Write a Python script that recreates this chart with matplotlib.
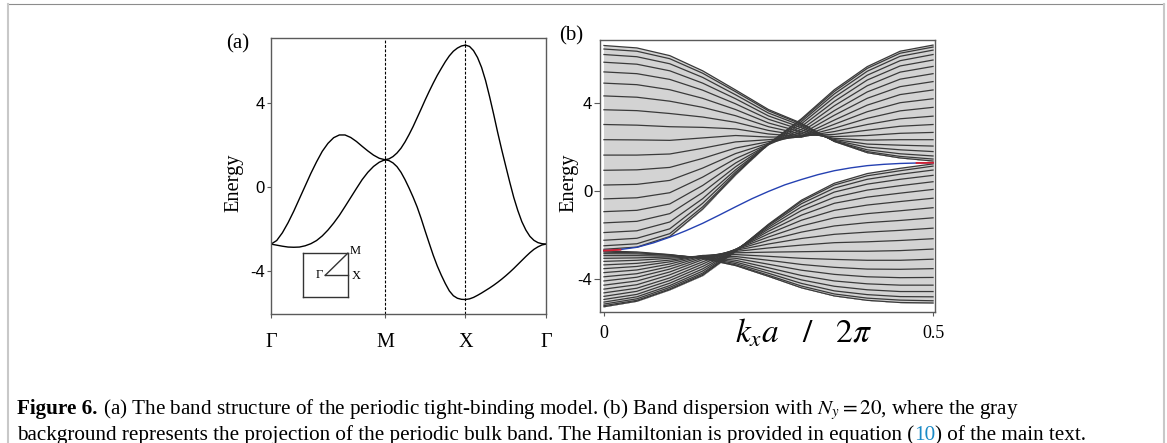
import numpy as np
import matplotlib
matplotlib.use('Agg')
import matplotlib.pyplot as plt
from matplotlib.lines import Line2D

plt.rcParams['font.family'] = 'Liberation Serif'
plt.rcParams['mathtext.fontset'] = 'stix'
plt.rcParams['axes.unicode_minus'] = False

W, H = 1167, 443

# ---------------- panel (a): bands along Γ-M-X-Γ ----------------
path_labels = ['Γ', 'M', 'X', 'Γ']
seg_lengths = [np.sqrt(2), 1.0, 1.0]
seg_frac = [0.0, 0.05, 0.1, 0.15, 0.2, 0.25, 0.3, 0.35, 0.4, 0.45, 0.5,
            0.55, 0.6, 0.65, 0.7, 0.75, 0.8, 0.85, 0.9, 0.95, 1.0]

upper_GM = [-2.72, -2.55, -2.18, -1.70, -1.15, -0.55, 0.05, 0.65, 1.20, 1.70, 2.08,
            2.35, 2.48, 2.48, 2.36, 2.17, 1.94, 1.72, 1.52, 1.37, 1.30]
lower_GM = [-2.72, -2.77, -2.82, -2.86, -2.87, -2.86, -2.80, -2.70, -2.55, -2.33, -2.05,
            -1.72, -1.35, -0.93, -0.50, -0.07, 0.35, 0.70, 0.98, 1.18, 1.30]
upper_MX = [1.30, 1.34, 1.45, 1.62, 1.85, 2.15, 2.50, 2.88, 3.30, 3.72, 4.15,
            4.56, 4.95, 5.32, 5.65, 5.97, 6.25, 6.47, 6.62, 6.72, 6.76]
lower_MX = [1.30, 1.26, 1.15, 0.97, 0.70, 0.35, -0.05, -0.48, -0.95, -1.50, -2.10,
            -2.68, -3.25, -3.76, -4.20, -4.60, -4.95, -5.18, -5.30, -5.35, -5.36]
upper_XG = [6.76, 6.70, 6.50, 6.17, 5.70, 5.07, 4.30, 3.47, 2.60, 1.78, 1.00,
            0.23, -0.50, -1.12, -1.65, -2.05, -2.35, -2.54, -2.65, -2.70, -2.72]
lower_XG = [-5.36, -5.33, -5.26, -5.16, -5.05, -4.93, -4.81, -4.68, -4.54, -4.39, -4.23,
            -4.06, -3.88, -3.69, -3.50, -3.31, -3.13, -2.97, -2.85, -2.76, -2.72]

# ---------------- panel (b): ribbon bands, N_y = 20 ----------------
kx = [0.0, 0.05, 0.10, 0.15, 0.20, 0.25, 0.30, 0.35, 0.40, 0.45, 0.50]

upper_bands = [
    [-2.65, -2.55, -2.07, -0.82, 0.74, 2.15, 3.28, 4.60, 5.65, 6.35, 6.63],
    [-2.49, -2.40, -1.94, -0.72, 0.78, 2.14, 3.23, 4.52, 5.57, 6.26, 6.54],
    [-2.24, -2.15, -1.72, -0.56, 0.86, 2.12, 3.15, 4.41, 5.44, 6.12, 6.40],
    [-1.89, -1.81, -1.41, -0.35, 0.96, 2.11, 3.05, 4.26, 5.26, 5.92, 6.20],
    [-1.45, -1.38, -1.03, -0.07, 1.10, 2.11, 2.93, 4.07, 5.04, 5.68, 5.95],
    [-0.94, -0.88, -0.59, 0.25, 1.27, 2.11, 2.80, 3.87, 4.78, 5.40, 5.66],
    [-0.36, -0.31, -0.08, 0.63, 1.47, 2.13, 2.69, 3.65, 4.50, 5.08, 5.33],
    [0.27, 0.30, 0.48, 1.04, 1.70, 2.17, 2.59, 3.44, 4.21, 4.74, 4.97],
    [0.94, 0.96, 1.07, 1.48, 1.95, 2.24, 2.51, 3.22, 3.90, 4.38, 4.59],
    [1.63, 1.63, 1.68, 1.94, 2.23, 2.33, 2.46, 3.03, 3.60, 4.01, 4.19],
    [2.33, 2.32, 2.30, 2.41, 2.52, 2.45, 2.45, 2.85, 3.30, 3.64, 3.80],
    [3.02, 2.99, 2.92, 2.89, 2.82, 2.59, 2.47, 2.70, 3.02, 3.28, 3.40],
    [3.69, 3.65, 3.52, 3.36, 3.12, 2.75, 2.51, 2.57, 2.76, 2.94, 3.02],
    [4.32, 4.26, 4.08, 3.80, 3.42, 2.92, 2.59, 2.47, 2.52, 2.62, 2.66],
    [4.90, 4.83, 4.60, 4.21, 3.70, 3.09, 2.68, 2.39, 2.31, 2.33, 2.33],
    [5.41, 5.33, 5.07, 4.58, 3.96, 3.26, 2.78, 2.34, 2.13, 2.08, 2.04],
    [5.85, 5.76, 5.46, 4.90, 4.19, 3.41, 2.88, 2.30, 1.99, 1.87, 1.79],
    [6.20, 6.10, 5.78, 5.16, 4.37, 3.54, 2.97, 2.27, 1.87, 1.69, 1.59],
    [6.45, 6.35, 6.01, 5.35, 4.51, 3.64, 3.04, 2.26, 1.79, 1.57, 1.45],
    [6.61, 6.50, 6.15, 5.46, 4.59, 3.70, 3.08, 2.25, 1.74, 1.50, 1.36],
]

lower_bands = [
    [-2.73, -2.77, -2.89, -3.07, -3.39, -3.88, -4.40, -4.77, -4.97, -5.07, -5.09],
    [-2.78, -2.81, -2.90, -3.06, -3.36, -3.83, -4.32, -4.68, -4.87, -4.96, -4.99],
    [-2.85, -2.86, -2.92, -3.03, -3.30, -3.74, -4.20, -4.54, -4.71, -4.80, -4.81],
    [-2.94, -2.94, -2.96, -3.00, -3.23, -3.63, -4.04, -4.33, -4.49, -4.57, -4.57],
    [-3.06, -3.04, -3.00, -2.98, -3.15, -3.49, -3.84, -4.09, -4.22, -4.28, -4.28],
    [-3.20, -3.15, -3.06, -2.95, -3.06, -3.33, -3.60, -3.79, -3.90, -3.94, -3.93],
    [-3.36, -3.29, -3.14, -2.94, -2.98, -3.15, -3.34, -3.47, -3.55, -3.56, -3.53],
    [-3.53, -3.43, -3.22, -2.93, -2.89, -2.97, -3.06, -3.11, -3.15, -3.15, -3.10],
    [-3.71, -3.59, -3.32, -2.95, -2.81, -2.78, -2.76, -2.74, -2.74, -2.71, -2.64],
    [-3.90, -3.76, -3.43, -2.99, -2.75, -2.59, -2.46, -2.35, -2.31, -2.25, -2.17],
    [-4.09, -3.92, -3.55, -3.05, -2.70, -2.41, -2.16, -1.97, -1.87, -1.79, -1.69],
    [-4.28, -4.09, -3.68, -3.12, -2.67, -2.24, -1.87, -1.59, -1.44, -1.34, -1.22],
    [-4.46, -4.26, -3.81, -3.22, -2.65, -2.09, -1.59, -1.22, -1.03, -0.90, -0.76],
    [-4.63, -4.42, -3.95, -3.32, -2.65, -1.95, -1.33, -0.88, -0.64, -0.48, -0.33],
    [-4.79, -4.56, -4.07, -3.43, -2.66, -1.83, -1.10, -0.56, -0.28, -0.10, 0.07],
    [-4.93, -4.70, -4.19, -3.54, -2.68, -1.73, -0.89, -0.29, 0.04, 0.24, 0.42],
    [-5.05, -4.81, -4.30, -3.64, -2.70, -1.65, -0.72, -0.05, 0.31, 0.53, 0.71],
    [-5.14, -4.90, -4.38, -3.73, -2.72, -1.58, -0.58, 0.13, 0.53, 0.76, 0.95],
    [-5.21, -4.97, -4.45, -3.79, -2.73, -1.54, -0.48, 0.27, 0.69, 0.92, 1.13],
    [-5.26, -5.01, -4.49, -3.84, -2.75, -1.51, -0.42, 0.35, 0.79, 1.03, 1.23],
]

# edge state (blue) and its red ends
edge_k = [0.0, 0.025, 0.05, 0.075, 0.1, 0.125, 0.15, 0.175, 0.2, 0.225, 0.25,
          0.275, 0.3, 0.325, 0.35, 0.375, 0.4, 0.425, 0.45, 0.475, 0.5]
edge_E = [-2.71, -2.66, -2.56, -2.36, -2.10, -1.80, -1.47, -1.10, -0.72, -0.35, -0.02,
          0.28, 0.52, 0.74, 0.92, 1.05, 1.15, 1.21, 1.25, 1.27, 1.28]
red_left_k = [0.0, 0.025]
red_left_E = [-2.71, -2.67]
red_right_k = [0.475, 0.5]
red_right_E = [1.27, 1.28]

caption_line1 = ('(a) The band structure of the periodic tight-binding model. '
                 '(b) Band dispersion with $N_y = 20$, where the gray')
caption_line2a = ('background represents the projection of the periodic bulk band. '
                  'The Hamiltonian is provided in equation (')
caption_ref = '10'
caption_line2b = ') of the main text.'

frame_col = '#5a5a5a'
band_col = '#3a3a3a'
fill_col = '#d3d3d3'

fig = plt.figure(figsize=(W / 100, H / 100), dpi=100)


def px_axes(left, top, right, bottom):
    return fig.add_axes([left / W, 1 - bottom / H, (right - left) / W, (bottom - top) / H])


# ---------------- panel (a) ----------------
ax_a = px_axes(271, 38, 546, 314)
x0 = 0.0
segments = [(upper_GM, lower_GM), (upper_MX, lower_MX), (upper_XG, lower_XG)]
for L, (up, lo) in zip(seg_lengths, segments):
    xs = x0 + L * np.array(seg_frac)
    ax_a.plot(xs, up, color='black', lw=1.0)
    ax_a.plot(xs, lo, color='black', lw=1.0)
    x0 += L
ticks_a = np.concatenate([[0], np.cumsum(seg_lengths)])
for xv in ticks_a[1:-1]:
    ax_a.axvline(xv, color='black', lw=0.8, ls=(0, (2.5, 1.5)))
ax_a.set_xlim(0, ticks_a[-1])
ax_a.set_ylim(-6.05, 7.1)
ax_a.set_xticks(ticks_a)
ax_a.set_xticklabels(path_labels, fontsize=14.5)
ax_a.set_yticks([-4, 0, 4])
ax_a.set_yticklabels(['-4', '0', '4'], fontsize=12, family='Liberation Sans')
ax_a.tick_params(axis='x', direction='out', length=3, width=0.8, color=frame_col, pad=11)
ax_a.tick_params(axis='y', direction='out', length=3, width=0.8, color=frame_col, pad=1.5)
for sp in ax_a.spines.values():
    sp.set_color(frame_col)
    sp.set_linewidth(1.0)

# Brillouin-zone sketch
ax_in = px_axes(302.7, 253.3, 347.7, 297.3)
ax_in.set_xlim(0, 1)
ax_in.set_ylim(0, 1)
ax_in.set_xticks([])
ax_in.set_yticks([])
ax_in.patch.set_alpha(0)
for sp in ax_in.spines.values():
    sp.set_color('#333333')
    sp.set_linewidth(1.0)
ax_in.plot([0.5, 1.0], [0.5, 1.0], color='#333333', lw=1.0, clip_on=False)
ax_in.plot([0.5, 1.0], [0.5, 0.5], color='#333333', lw=1.0, clip_on=False)
ax_in.text(0.44, 0.5, 'Γ', fontsize=9, ha='right', va='center')
ax_in.text(1.04, 1.05, 'M', fontsize=9, ha='left', va='center')
ax_in.text(1.09, 0.48, 'X', fontsize=9, ha='left', va='center')

# ---------------- panel (b) ----------------
ax_b = px_axes(600, 40, 935, 312)
for group in (upper_bands, lower_bands):
    for i in range(len(group)):
        for j in range(i + 1, len(group)):
            ax_b.fill_between(kx, group[i], group[j], color=fill_col, lw=0, zorder=1)
for group in (upper_bands, lower_bands):
    for band in group:
        ax_b.plot(kx, band, color=band_col, lw=0.9, zorder=2)
ax_b.plot(edge_k, edge_E, color='#2541b2', lw=1.0, zorder=3)
ax_b.plot(red_left_k, red_left_E, color='#d42030', lw=1.3, zorder=4)
ax_b.plot(red_right_k, red_right_E, color='#d42030', lw=1.3, zorder=4)
ax_b.set_xlim(-0.006, 0.503)
ax_b.set_ylim(-5.5, 6.86)
ax_b.set_xticks([0, 0.5])
ax_b.set_xticklabels(['0', '0.5'], fontsize=13)
ax_b.set_yticks([-4, 0, 4])
ax_b.set_yticklabels(['-4', '0', '4'], fontsize=12, family='Liberation Sans')
ax_b.tick_params(axis='x', direction='out', length=3, width=0.8, color=frame_col, pad=6)
ax_b.tick_params(axis='y', direction='out', length=4, width=0.8, color=frame_col, pad=1.5)
for sp in ax_b.spines.values():
    sp.set_color(frame_col)
    sp.set_linewidth(1.0)

# labels
fig.text(234 / W, 1 - 183 / H, 'Energy', rotation=90, ha='center', va='center', fontsize=14.7)
fig.text(569 / W, 1 - 183 / H, 'Energy', rotation=90, ha='center', va='center', fontsize=14.7)
fig.text(238 / W, 1 - 44 / H, '(a)', ha='center', va='center', fontsize=15)
fig.text(571.5 / W, 1 - 36 / H, '(b)', ha='center', va='center', fontsize=15)
fig.text(804 / W, 1 - 333 / H, r'$k_x a\quad/\quad 2\pi$', ha='center', va='center', fontsize=24)

# ---------------- caption ----------------
renderer = fig.canvas.get_renderer()
cap_size = 15.2


def put(x, y, s, **kw):
    t = fig.text(x / W, 1 - y / H, s, ha='left', va='baseline', fontsize=cap_size, **kw)
    return t.get_window_extent(renderer).x1


t1 = fig.text(0, 0, 'a a', fontsize=cap_size)
t2 = fig.text(0, 0, 'aa', fontsize=cap_size)
space_w = t1.get_window_extent(renderer).width - t2.get_window_extent(renderer).width
t1.remove()
t2.remove()

x = put(17, 414, 'Figure 6.', fontweight='bold')
put(x + space_w, 414, caption_line1)
x = put(17, 440, caption_line2a)
x = put(x, 440, caption_ref, color='#1a8ac6')
put(x, 440, caption_line2b)

# page frame
fig.add_artist(Line2D([7.5 / W, 1164 / W], [1 - 4.3 / H] * 2, transform=fig.transFigure,
                      color='#8c8c8c', lw=0.8))
fig.add_artist(Line2D([7.7 / W] * 2, [1 - 4.3 / H, 0], transform=fig.transFigure,
                      color='#c8c8c8', lw=1.5))
fig.add_artist(Line2D([1164 / W] * 2, [1 - 4.3 / H, 0], transform=fig.transFigure,
                      color='#c8c8c8', lw=1.5))

fig.savefig('out.png', dpi=100)
